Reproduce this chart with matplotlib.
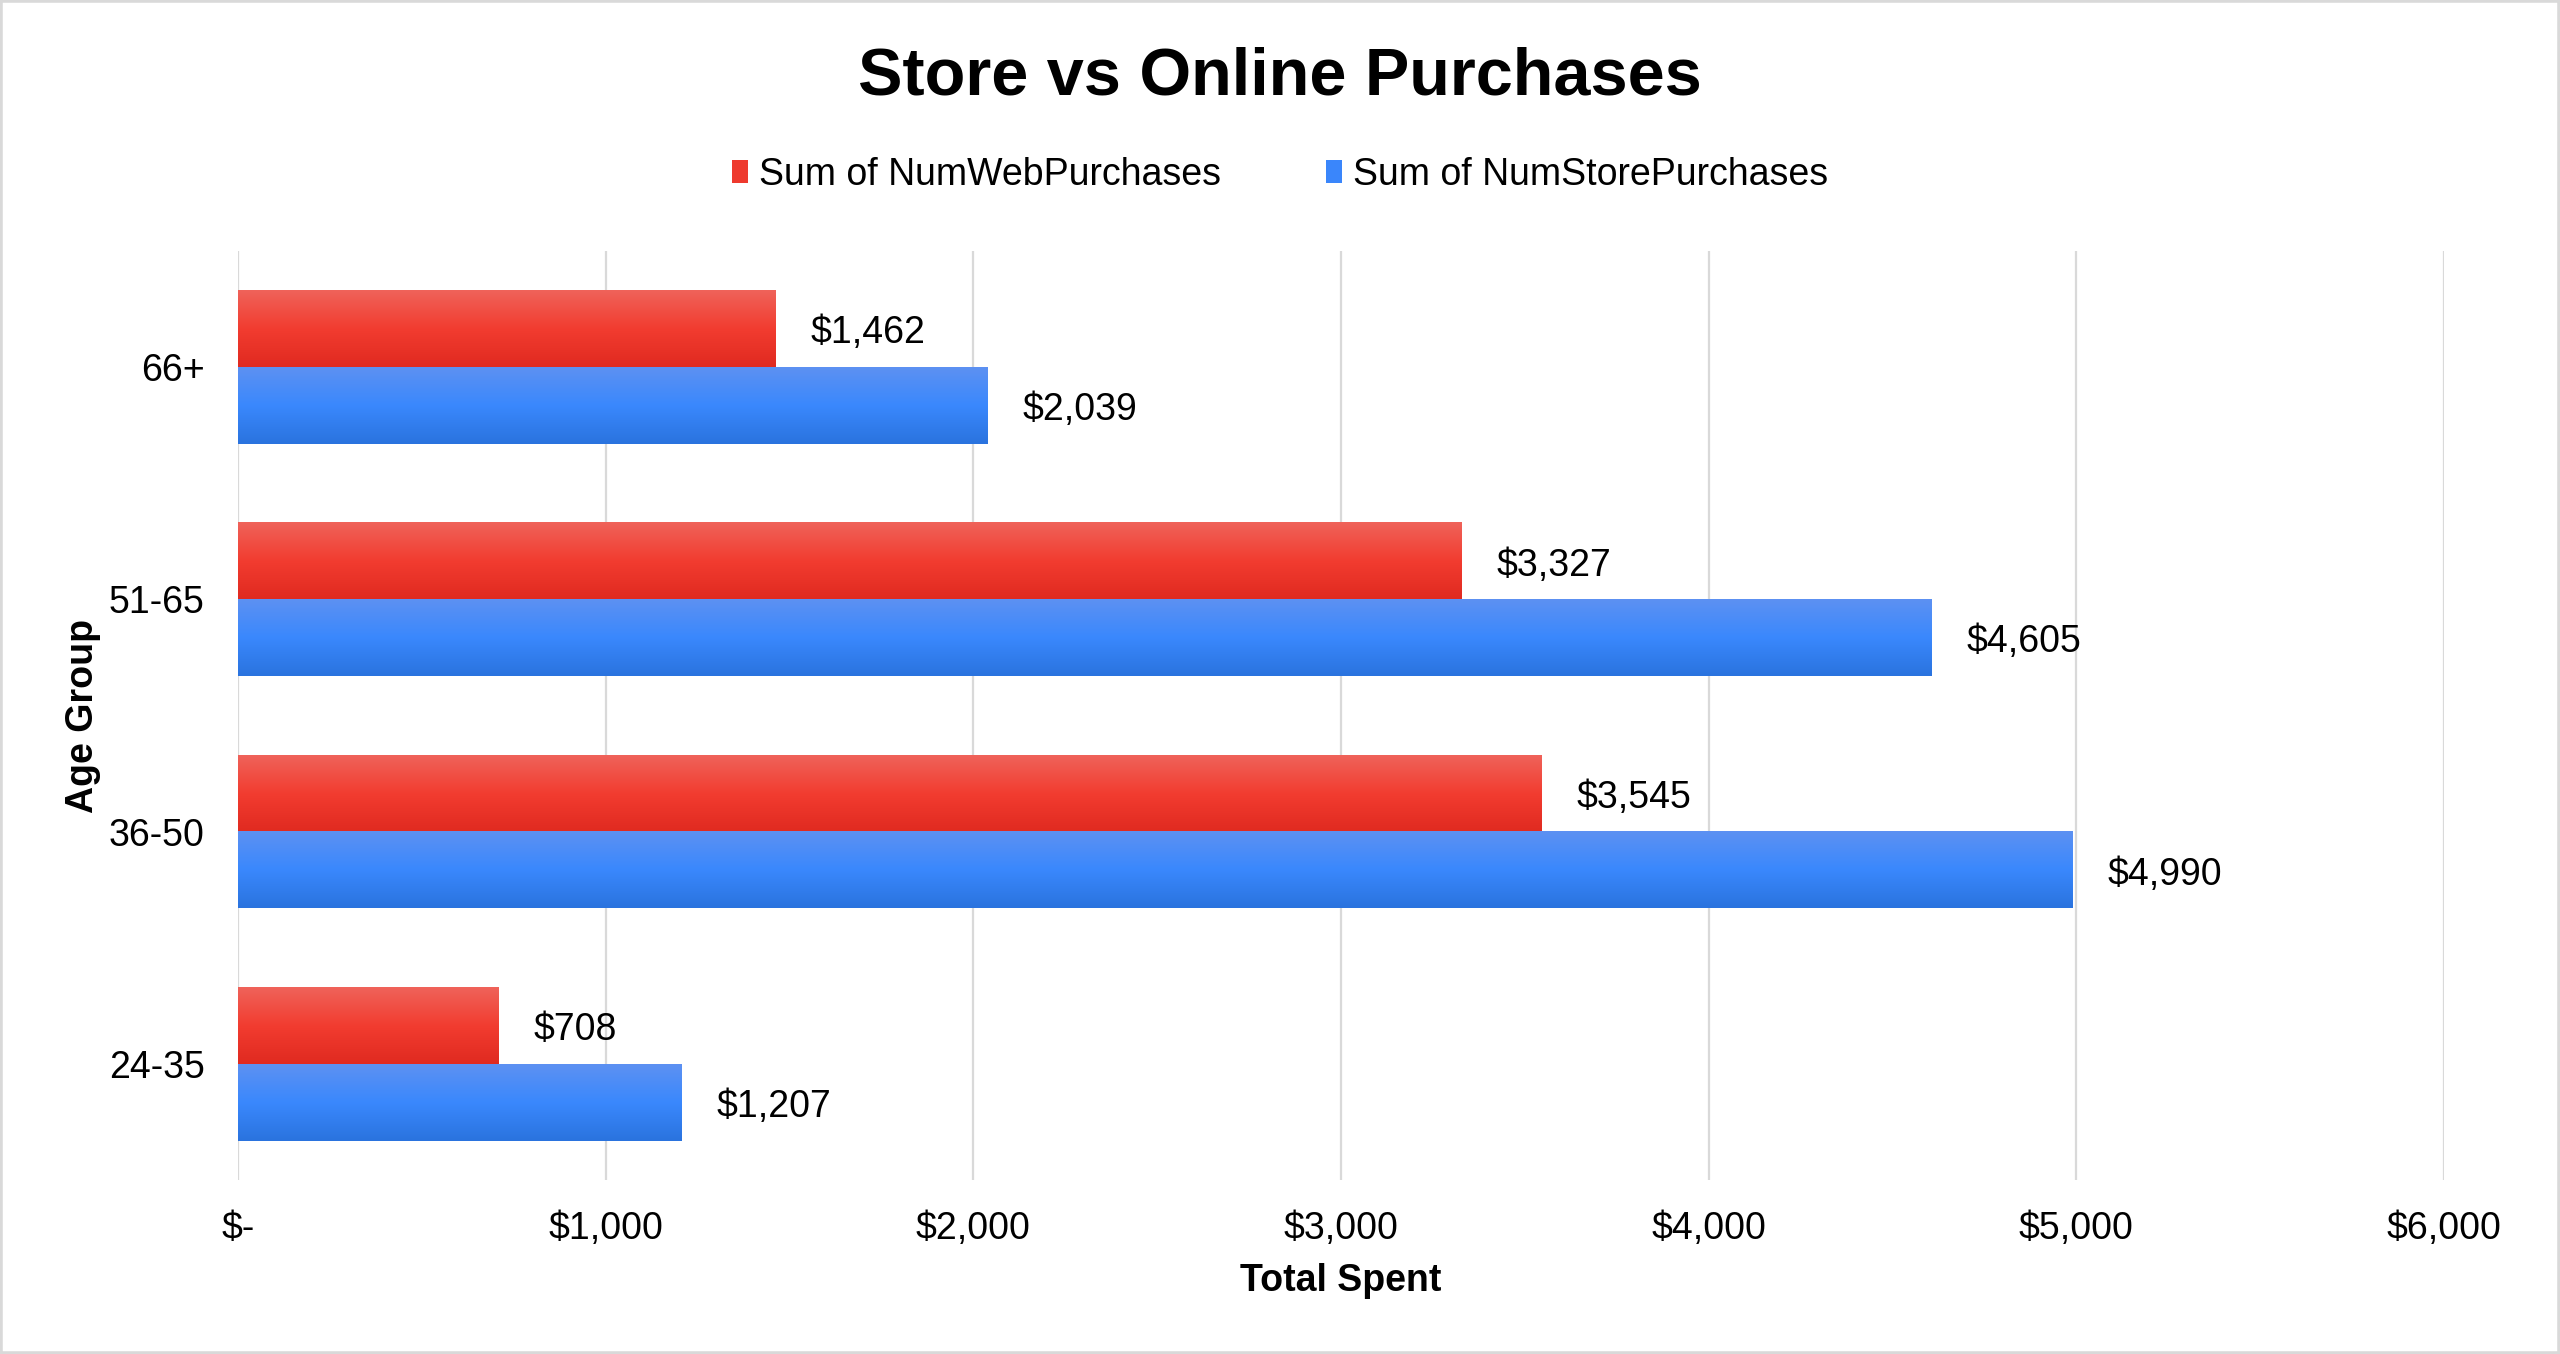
import matplotlib.pyplot as plt
import numpy as np
from matplotlib.colors import LinearSegmentedColormap
from matplotlib.patches import Patch, Rectangle
from matplotlib.ticker import FuncFormatter

plt.rcParams['font.family'] = ['Liberation Sans', 'DejaVu Sans']

# Data
age_groups = ['24-35', '36-50', '51-65', '66+']
web_purchases = [708, 3545, 3327, 1462]
store_purchases = [1207, 4990, 4605, 2039]
x_ticks = [0, 1000, 2000, 3000, 4000, 5000, 6000]

# Gradient colours (bottom, middle, top)
red_cmap = LinearSegmentedColormap.from_list('red_grad', ['#e02a20', '#f23c30', '#ef635a'])
blue_cmap = LinearSegmentedColormap.from_list('blue_grad', ['#2a73de', '#3a88fd', '#5d91f2'])

fig = plt.figure(figsize=(25.6, 13.54), dpi=100)
ax = fig.add_axes([0.093, 0.1285, 0.8617, 0.6861])

bar_h = 0.33
y_pos = np.arange(len(age_groups))
grad = np.linspace(0, 1, 256).reshape(-1, 1)
fs = 27


def gradient_bars(values, offset, cmap):
    for y, v in zip(y_pos, values):
        y0 = y + offset - bar_h / 2
        ax.imshow(grad, cmap=cmap, origin='lower', aspect='auto',
                  extent=(0, v, y0, y0 + bar_h), zorder=3, interpolation='bilinear')
        # value label, nudged a touch below the bar centre like the original
        ax.text(v + 95, y + offset - 0.02, f'${v:,.0f}', va='center', ha='left',
                fontsize=fs, zorder=4)


gradient_bars(web_purchases, bar_h / 2, red_cmap)
gradient_bars(store_purchases, -bar_h / 2, blue_cmap)

ax.set_xlim(0, 6000)
ax.set_ylim(-0.5, 3.5)
ax.set_xticks(x_ticks)
ax.xaxis.set_major_formatter(FuncFormatter(lambda v, p: '$-' if v == 0 else f'${v:,.0f}'))
ax.set_yticks(y_pos)
ax.set_yticklabels(age_groups)
ax.tick_params(axis='both', length=0, labelsize=fs)
ax.tick_params(axis='x', pad=22)
ax.tick_params(axis='y', pad=24)

ax.grid(axis='x', color='#d9d9d9', linewidth=1.6, zorder=0)
ax.set_axisbelow(True)
for s in ax.spines.values():
    s.set_visible(False)

ax.set_xlabel('Total Spent', fontsize=fs, fontweight='bold', labelpad=12)
ax.set_ylabel('Age Group', fontsize=fs, fontweight='bold', labelpad=6)

fig.suptitle('Store vs Online Purchases', fontsize=48, fontweight='bold', y=0.966)

handles = [Patch(facecolor='#ee3a2e', label='Sum of NumWebPurchases'),
           Patch(facecolor='#3a86fb', label='Sum of NumStorePurchases')]
fig.legend(handles=handles, loc='center', bbox_to_anchor=(0.5, 0.871), ncol=2,
           frameon=False, fontsize=fs, handlelength=0.42, handleheight=0.6,
           handletextpad=0.3, columnspacing=2.8)

# light grey frame around the whole chart
fig.patches.append(Rectangle((0, 0), 1, 1, transform=fig.transFigure, fill=False,
                             edgecolor='#d9d9d9', linewidth=4))

fig.savefig('out.png', dpi=100)
